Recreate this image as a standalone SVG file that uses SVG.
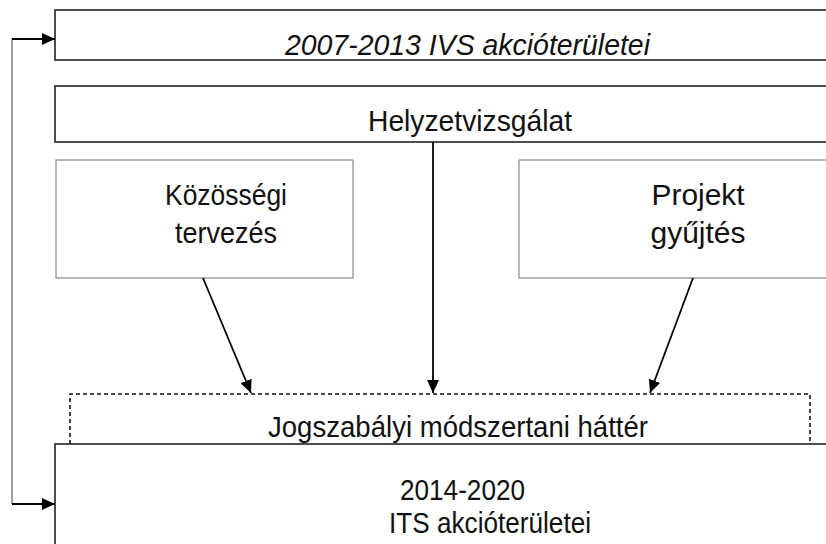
<svg xmlns="http://www.w3.org/2000/svg" width="826" height="544" viewBox="0 0 826 544">
<defs>
<style>
.box{fill:#fff;stroke:#222;stroke-width:1.6}
.sub{fill:#fff;stroke:#888;stroke-width:1.2}
.dash{fill:none;stroke:#111;stroke-width:1.6;stroke-dasharray:4 3}
.t{font-family:"Liberation Sans",Arial,sans-serif;font-size:29px;fill:#111}
.it{font-style:italic}
.c{stroke:#000;stroke-width:1.8;fill:none}
.g{stroke:#777;stroke-width:1.4;fill:none}
</style>
<marker id="ah" viewBox="0 0 13 12" refX="13" refY="6" markerWidth="13" markerHeight="12" markerUnits="userSpaceOnUse" orient="auto">
<path d="M0,0 L13,6 L0,12 Z" fill="#000"/>
</marker>
</defs>
<rect width="826" height="544" fill="#fff"/>
<g id="ivs">
<rect class="box" x="55" y="10" width="790" height="50"/>
<text class="t it" x="285" y="55" font-size="27" textLength="365" lengthAdjust="spacingAndGlyphs">2007-2013 IVS akcióterületei</text>
</g>
<g id="helyzet">
<rect class="box" x="55" y="86" width="790" height="56"/>
<text class="t" x="368" y="131" textLength="204" lengthAdjust="spacingAndGlyphs">Helyzetvizsgálat</text>
</g>
<g id="kozossegi">
<rect class="sub" x="56" y="160" width="297" height="118"/>
<text class="t" x="226" y="205" text-anchor="middle" textLength="122" lengthAdjust="spacingAndGlyphs">Közösségi</text>
<text class="t" x="226" y="243" text-anchor="middle" textLength="102" lengthAdjust="spacingAndGlyphs">tervezés</text>
</g>
<g id="projekt">
<rect class="sub" x="519" y="160" width="320" height="118"/>
<text class="t" x="698" y="205" text-anchor="middle" textLength="93" lengthAdjust="spacingAndGlyphs">Projekt</text>
<text class="t" x="698" y="243" text-anchor="middle" textLength="95" lengthAdjust="spacingAndGlyphs">gyűjtés</text>
</g>
<g id="jogszabalyi">
<path class="dash" d="M70,444 V394 H810 V444"/>
<text class="t" x="268" y="437" textLength="380" lengthAdjust="spacingAndGlyphs">Jogszabályi módszertani háttér</text>
</g>
<g id="its">
<rect class="box" x="55" y="444" width="790" height="120"/>
<text class="t" x="400" y="500" textLength="125" lengthAdjust="spacingAndGlyphs">2014-2020</text>
<text class="t" x="389" y="533" textLength="202" lengthAdjust="spacingAndGlyphs">ITS akcióterületei</text>
</g>
<g id="connectors">
<path class="g" d="M12,39 V504"/>
<path class="c" d="M12,39 H55" marker-end="url(#ah)"/>
<path class="c" d="M12,504 H55" marker-end="url(#ah)"/>
<path class="c" d="M433,142 V393" marker-end="url(#ah)"/>
<path class="c" d="M203,278 L251,393" marker-end="url(#ah)"/>
<path class="c" d="M693,278 L650,393" marker-end="url(#ah)"/>
</g>
</svg>
